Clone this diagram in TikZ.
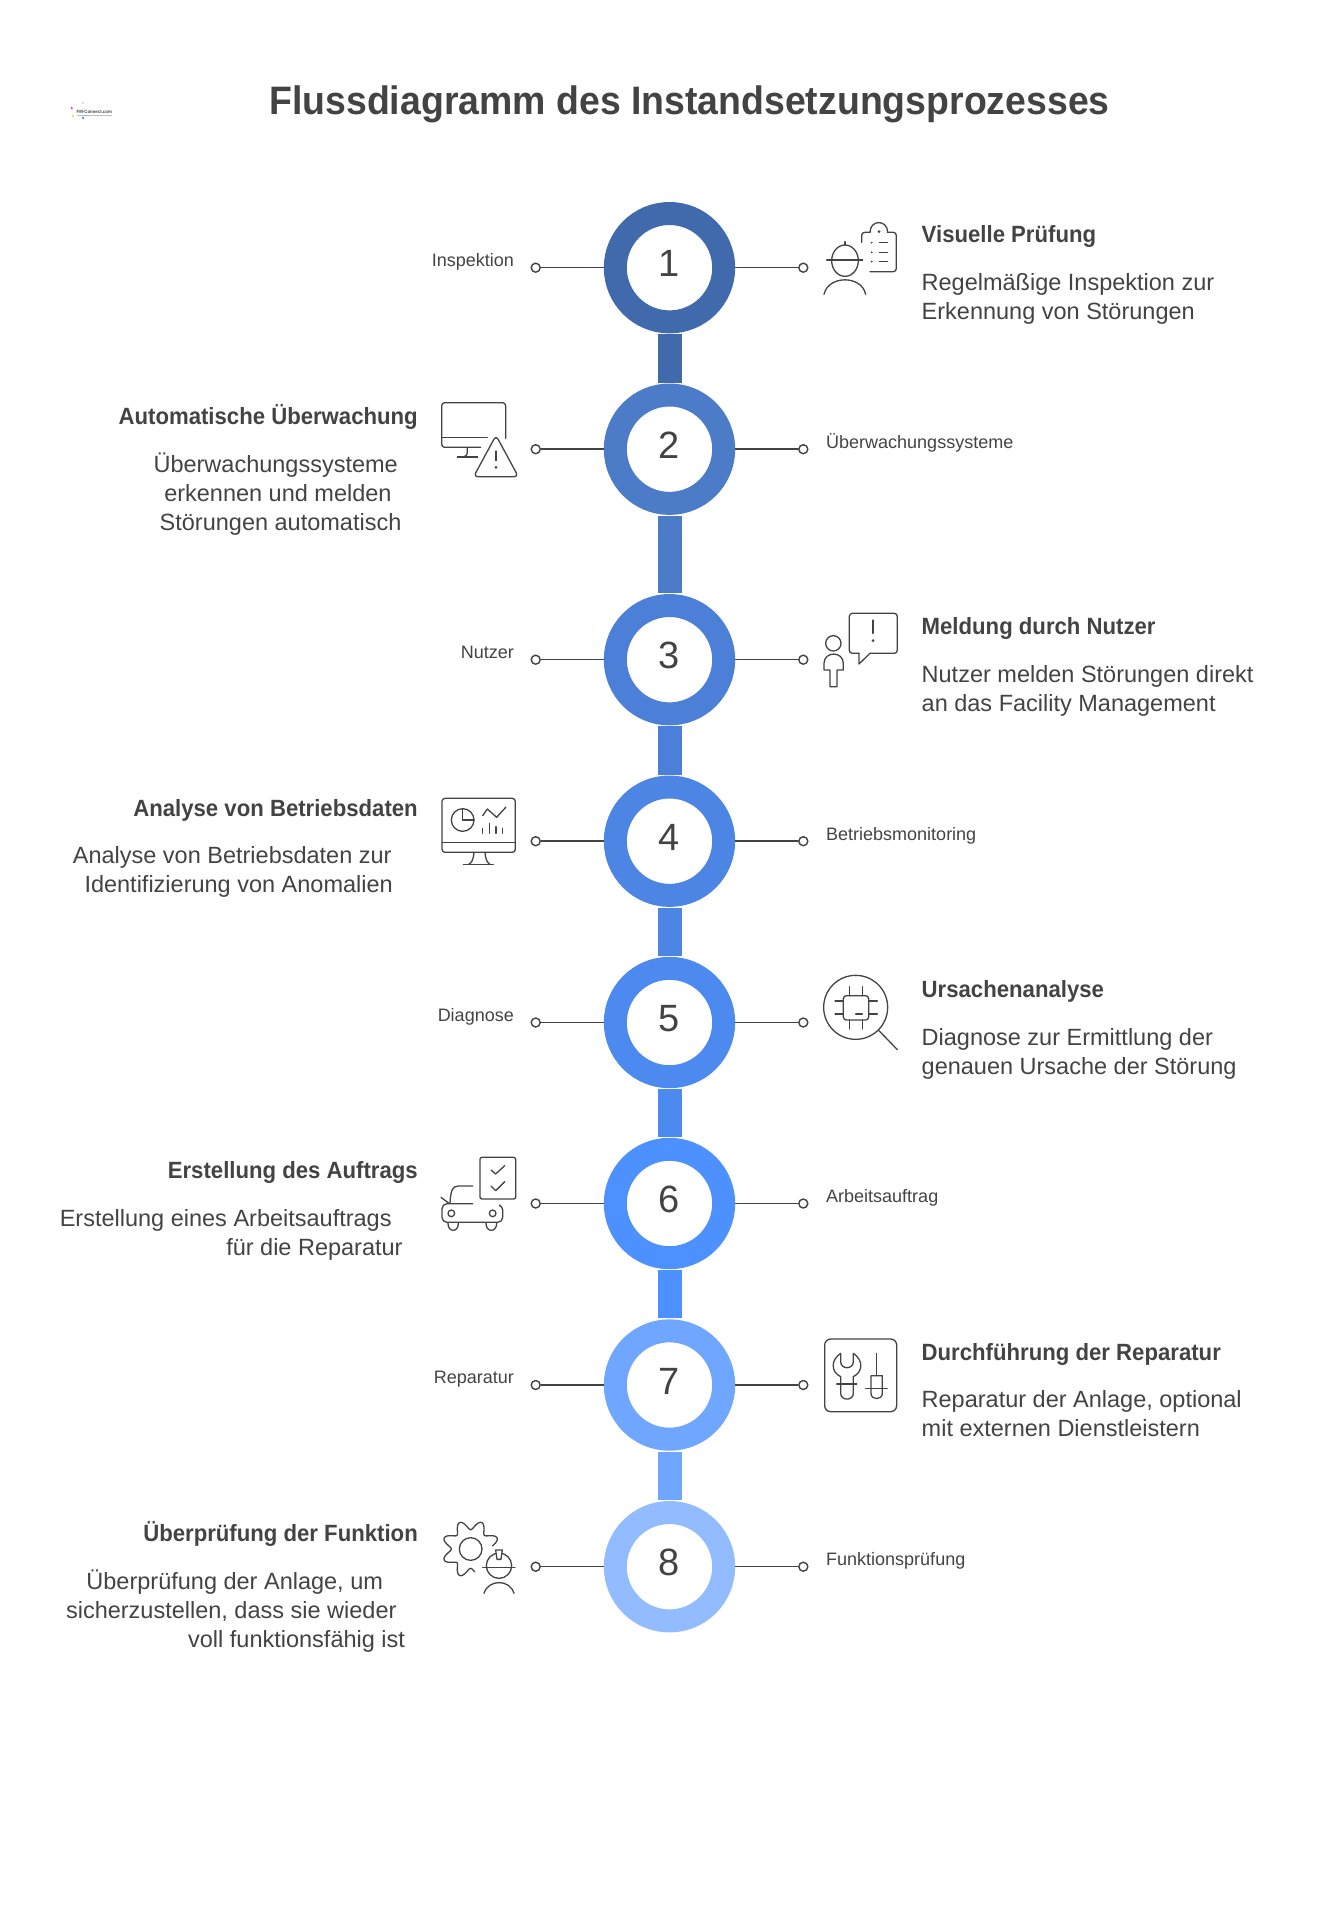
\documentclass[tikz,border=0pt]{standalone}
\usepackage{fontspec}
\setmainfont{Liberation Sans}[BoldFeatures={FakeStretch=0.943}]
\usetikzlibrary{positioning}
\definecolor{inkgray}{RGB}{67, 67, 67}
\definecolor{stepa}{RGB}{64, 106, 172}
\definecolor{stepb}{RGB}{76, 123, 200}
\definecolor{stepc}{RGB}{76, 128, 216}
\definecolor{stepd}{RGB}{76, 133, 228}
\definecolor{stepe}{RGB}{76, 138, 240}
\definecolor{stepf}{RGB}{76, 145, 255}
\definecolor{stepg}{RGB}{111, 166, 255}
\definecolor{steph}{RGB}{147, 187, 255}

\begin{document}
\begin{tikzpicture}[
    x=1pt, y=-1pt,
    ringnode/.style={circle, draw=#1, fill=white, line width=23pt, minimum size=108.4pt, inner sep=0pt, text=inkgray, font=\fontsize{38}{38}\selectfont, text height=27pt, text depth=9pt},
    barlink/.style={draw=#1, line width=24pt, shorten <=1pt, shorten >=1pt},
    dotnode/.style={circle, draw=inkgray, fill=white, line width=1.4pt, minimum size=9pt, inner sep=0pt},
    wire/.style={draw=inkgray, line width=1.5pt},
    smalllabel/.style={text=inkgray, inner sep=0pt, font=\fontsize{18}{22}\selectfont},
    headlabel/.style={text=inkgray, inner sep=0pt, font=\fontsize{23.5}{29}\selectfont\bfseries},
    desclabel/.style={text=inkgray, inner sep=0pt, font=\fontsize{23.5}{29}\selectfont},
    iconbox/.style={shift={(#1)}, x=0.3333pt, y=-0.3333pt, draw=inkgray, line width=1.3pt, line cap=round, line join=round},
    icondot/.style={fill=inkgray, draw=none}
]
    \useasboundingbox (0,0) rectangle (1337,1920);

    % Title and logo
    \node[text=inkgray, inner sep=0pt, anchor=base, font=\fontsize{39.7}{40}\selectfont\bfseries] (title) at (689.5,114) {Flussdiagramm des Instandsetzungsprozesses};
    \node[text=inkgray, inner sep=0pt, anchor=base west, font=\fontsize{4.6}{5}\selectfont\bfseries] (logo) at (76.5,113) {FM-Connect.com};
    \fill[violet!60] (71.7,108) circle (1.3);
    \fill[pink] (83,103) circle (1.1);
    \fill[yellow!70!orange] (73,116) circle (1.2);
    \fill[cyan!60!blue] (83,118) circle (1.2);
    \fill[gray!50] (77,115) rectangle (112,116.2);

    % Rings
    \node[ringnode=stepa] (ring1) at (669.5,267.7) {1};
    \node[ringnode=stepb] (ring2) at (669.5,449.2) {2};
    \node[ringnode=stepc] (ring3) at (669.5,659.7) {3};
    \node[ringnode=stepd] (ring4) at (669.5,841.2) {4};
    \node[ringnode=stepe] (ring5) at (669.5,1022.5) {5};
    \node[ringnode=stepf] (ring6) at (669.5,1203.5) {6};
    \node[ringnode=stepg] (ring7) at (669.5,1385) {7};
    \node[ringnode=steph] (ring8) at (669.5,1566.7) {8};

    % Bars between rings
    \draw[barlink=stepa] (ring1) -- (ring2);
    \draw[barlink=stepb] (ring2) -- (ring3);
    \draw[barlink=stepc] (ring3) -- (ring4);
    \draw[barlink=stepd] (ring4) -- (ring5);
    \draw[barlink=stepe] (ring5) -- (ring6);
    \draw[barlink=stepf] (ring6) -- (ring7);
    \draw[barlink=stepg] (ring7) -- (ring8);

    % Step 1
    \node[dotnode] (left1) at (535.7,267.7) {};
    \node[dotnode] (right1) at (803.3,267.7) {};
    \draw[wire] (left1) -- (ring1);
    \draw[wire] (ring1) -- (right1);
    \node[smalllabel, anchor=base east] (tag1) at (514,266.5) {Inspektion};
    \node[headlabel, anchor=base west] (head1) at (921.5,242.7) {Visuelle Prüfung};
    \node[desclabel, align=left, anchor=base west] (desc1) at (921.5,319) {Regelmäßige Inspektion zur\\Erkennung von Störungen};

    % Step 2
    \node[dotnode] (left2) at (535.7,449.2) {};
    \node[dotnode] (right2) at (803.3,449.2) {};
    \draw[wire] (left2) -- (ring2);
    \draw[wire] (ring2) -- (right2);
    \node[smalllabel, anchor=base west] (tag2) at (826,448) {Überwachungssysteme};
    \node[headlabel, anchor=base east] (head2) at (418,424.2) {Automatische Überwachung};
    \node[desclabel, align=right, anchor=base east] (desc2) at (401.6,530) {Überwachungssysteme\kern3.6pt\\erkennen und melden\kern9.8pt\\Störungen automatisch};

    % Step 3
    \node[dotnode] (left3) at (535.7,659.7) {};
    \node[dotnode] (right3) at (803.3,659.7) {};
    \draw[wire] (left3) -- (ring3);
    \draw[wire] (ring3) -- (right3);
    \node[smalllabel, anchor=base east] (tag3) at (514,658.5) {Nutzer};
    \node[headlabel, anchor=base west] (head3) at (921.5,634.7) {Meldung durch Nutzer};
    \node[desclabel, align=left, anchor=base west] (desc3) at (921.5,711) {Nutzer melden Störungen direkt\\an das Facility Management};

    % Step 4
    \node[dotnode] (left4) at (535.7,841.2) {};
    \node[dotnode] (right4) at (803.3,841.2) {};
    \draw[wire] (left4) -- (ring4);
    \draw[wire] (ring4) -- (right4);
    \node[smalllabel, anchor=base west] (tag4) at (826,840) {Betriebsmonitoring};
    \node[headlabel, anchor=base east] (head4) at (418,816.2) {Analyse von Betriebsdaten};
    \node[desclabel, align=right, anchor=base east] (desc4) at (393,892.5) {Analyse von Betriebsdaten zur\kern1.2pt\\Identifizierung von Anomalien};

    % Step 5
    \node[dotnode] (left5) at (535.7,1022.5) {};
    \node[dotnode] (right5) at (803.3,1022.5) {};
    \draw[wire] (left5) -- (ring5);
    \draw[wire] (ring5) -- (right5);
    \node[smalllabel, anchor=base east] (tag5) at (514,1021.3) {Diagnose};
    \node[headlabel, anchor=base west] (head5) at (921.5,997.5) {Ursachenanalyse};
    \node[desclabel, align=left, anchor=base west] (desc5) at (921.5,1074) {Diagnose zur Ermittlung der\\genauen Ursache der Störung};

    % Step 6
    \node[dotnode] (left6) at (535.7,1203.5) {};
    \node[dotnode] (right6) at (803.3,1203.5) {};
    \draw[wire] (left6) -- (ring6);
    \draw[wire] (ring6) -- (right6);
    \node[smalllabel, anchor=base west] (tag6) at (826,1202.3) {Arbeitsauftrag};
    \node[headlabel, anchor=base east] (head6) at (418,1178.5) {Erstellung des Auftrags};
    \node[desclabel, align=right, anchor=base east] (desc6) at (402.8,1255) {Erstellung eines Arbeitsauftrags\kern11pt\\für die Reparatur};

    % Step 7
    \node[dotnode] (left7) at (535.7,1385) {};
    \node[dotnode] (right7) at (803.3,1385) {};
    \draw[wire] (left7) -- (ring7);
    \draw[wire] (ring7) -- (right7);
    \node[smalllabel, anchor=base east] (tag7) at (514,1383.8) {Reparatur};
    \node[headlabel, anchor=base west] (head7) at (921.5,1360) {Durchführung der Reparatur};
    \node[desclabel, align=left, anchor=base west] (desc7) at (921.5,1436.5) {Reparatur der Anlage, optional\\mit externen Dienstleistern};

    % Step 8
    \node[dotnode] (left8) at (535.7,1566.7) {};
    \node[dotnode] (right8) at (803.3,1566.7) {};
    \draw[wire] (left8) -- (ring8);
    \draw[wire] (ring8) -- (right8);
    \node[smalllabel, anchor=base west] (tag8) at (826,1565.5) {Funktionsprüfung};
    \node[headlabel, anchor=base east] (head8) at (418,1541.7) {Überprüfung der Funktion};
    \node[desclabel, align=right, anchor=base east] (desc8) at (405.2,1647.7) {Überprüfung der Anlage, um\kern22pt\\sicherzustellen, dass sie wieder\kern8.5pt\\voll funktionsfähig ist};

    % Icon 1: worker and clipboard
    \begin{scope}[iconbox={820,210}]
        \draw (75,95) -- (75,105);
        \draw (75,152) ellipse (40 and 47);
        \draw (20,150) -- (128,150);
        \draw (12,253) .. controls (25,195) and (125,195) .. (137,253);
        \draw[rounded corners=3pt] (125,97) -- (125,67) -- (150,67);
        \draw (150,67) .. controls (150,28) and (203,28) .. (203,67);
        \draw[rounded corners=3pt] (203,67) -- (229,67) -- (229,185) -- (150,185);
        \fill[icondot] (177,65) circle (4.5);
        \fill[icondot] (155,98) circle (3) (155,127) circle (3) (155,155) circle (3);
        \draw (178,98) -- (203,98) (178,127) -- (203,127) (178,155) -- (203,155);
    \end{scope}

    % Icon 2: monitor and warning
    \begin{scope}[iconbox={430,390}]
        \draw[rounded corners=3pt] (227,145) -- (227,38) -- (35,38) -- (35,172) -- (152,172);
        \draw (35,143) -- (172,143);
        \draw (112,172) -- (112,185) .. controls (112,197) and (105,201) .. (98,201);
        \draw (82,201) -- (143,201);
        \draw[rounded corners=4pt] (198,136) -- (265,260) -- (131,260) -- cycle;
        \draw (198,183) -- (198,212);
        \fill[icondot] (198,232) circle (4.5);
    \end{scope}

    % Icon 3: user and speech bubble
    \begin{scope}[iconbox={820,610}]
        \draw[rounded corners=3pt] (150,130) -- (232,130) -- (232,10) -- (88,10) -- (88,130) -- (117,130);
        \draw (117,130) -- (117,162) -- (150,130);
        \draw (159,30) -- (159,70);
        \fill[icondot] (159,92) circle (4.5);
        \draw (40,100) circle (23);
        \draw (30,230) -- (30,180) -- (12,180) -- (12,160) .. controls (12,123) and (70,123) .. (70,160) -- (70,180) -- (51,180) -- (51,230) -- cycle;
    \end{scope}

    % Icon 4: dashboard monitor
    \begin{scope}[iconbox={430,795}]
        \draw[rounded corners=3pt] (36,10) rectangle (256,172);
        \draw (36,142) -- (256,142);
        \draw (132,172) .. controls (130,195) and (125,203) .. (116,208);
        \draw (165,172) .. controls (167,195) and (172,203) .. (180,208);
        \draw (100,208) -- (190,208);
        \draw (98,75) circle (34);
        \draw (98,41) -- (98,75) -- (132,75);
        \draw (158,62) -- (172,42) -- (200,67) -- (228,36);
        \draw (158,100) -- (158,115) (178,85) -- (178,115) (198,95) -- (198,115) (218,100) -- (218,115);
    \end{scope}

    % Icon 5: chip under magnifier
    \begin{scope}[iconbox={820,975}]
        \draw (107,97) circle (96);
        \draw (175,165) -- (232,224);
        \draw[rounded corners=3pt] (70,62) rectangle (146,135);
        \draw (88,35) -- (88,62) (127,35) -- (127,62);
        \draw (88,135) -- (88,162) (127,135) -- (127,162);
        \draw (45,78) -- (70,78) (45,117) -- (70,117);
        \draw (146,78) -- (172,78) (146,117) -- (172,117);
        \draw (107,117) -- (127,117);
    \end{scope}

    % Icon 6: car and checklist
    \begin{scope}[iconbox={430,1160}]
        \draw[rounded corners=2pt] (150,-8) rectangle (257,117);
        \draw (183,30) -- (197,42) -- (224,17);
        \draw (183,78) -- (197,92) -- (224,65);
        \draw (128,78) -- (85,78) .. controls (68,78) and (62,90) .. (60,130);
        \draw (33,112) -- (57,130);
        \draw[rounded corners=5pt] (128,131) -- (36,131) -- (36,187) -- (218,187) -- (218,150);
        \draw (218,150) .. controls (218,145) and (214,138) .. (208,135);
        \draw (64,160) circle (10) (188,160) circle (10);
        \draw (54,190) .. controls (54,218) and (85,218) .. (85,190);
        \draw (168,190) .. controls (168,218) and (200,218) .. (200,190);
    \end{scope}

    % Icon 7: wrench and screwdriver
    \begin{scope}[iconbox={820,1345}]
        \draw[rounded corners=6pt] (14,-18) rectangle (230,200);
        \draw (62,25) .. controls (32,45) and (32,80) .. (62,95) -- (62,145) .. controls (62,168) and (100,168) .. (100,145) -- (100,95) .. controls (130,80) and (130,45) .. (100,25) -- (100,50) .. controls (100,74) and (62,74) .. (62,50) -- cycle;
        \draw (50,117) -- (110,117);
        \draw (170,25) -- (170,92);
        \draw (153,92) -- (187,92) -- (187,145) .. controls (187,166) and (153,166) .. (153,145) -- cycle;
        \draw (137,130) -- (202,130);
    \end{scope}

    % Icon 8: gear and worker
    \begin{scope}[iconbox={430,1525}]
        \draw[domain=80:352, samples=120, smooth] plot ({122+(72-14*cos(8*\x))*cos(\x)},{72+(72-14*cos(8*\x))*sin(\x)});
        \draw (122,72) circle (34);
        \draw (207,122) circle (38);
        \draw (158,127) -- (255,127);
        \draw[fill=white] (197,75) -- (217,75) -- (213,103) -- (201,103) -- cycle;
        \draw (162,205) .. controls (175,162) and (240,162) .. (252,205);
    \end{scope}
\end{tikzpicture}
\end{document}
